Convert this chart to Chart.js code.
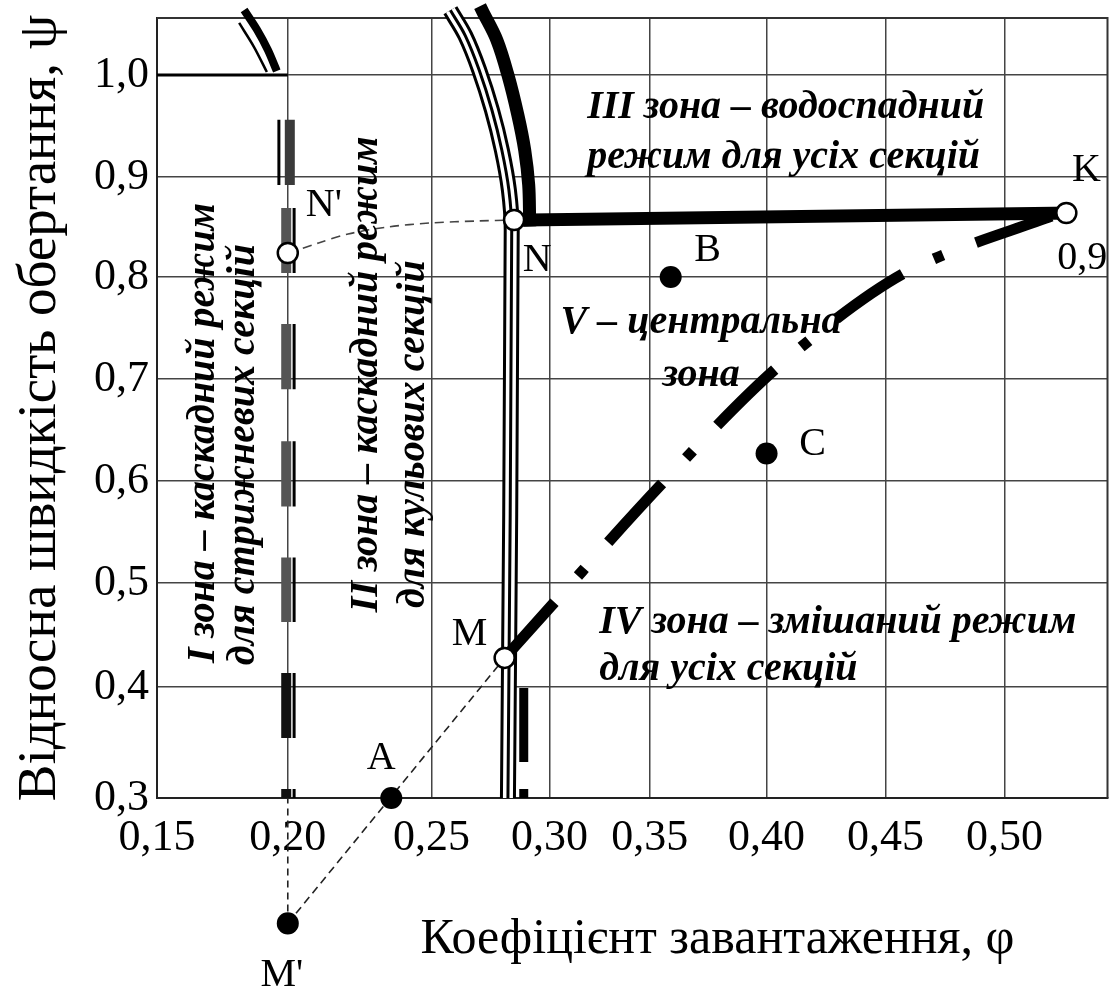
<!DOCTYPE html>
<html>
<head>
<meta charset="utf-8">
<script src="https://cdn.jsdelivr.net/npm/chart.js@4.4.1/dist/chart.umd.min.js"></script>
<style>
html,body{margin:0;padding:0;background:#fff;}
#wrap{width:1120px;height:1001px;}
</style>
</head>
<body>
<div id="wrap"><canvas id="c" width="1120" height="1001"></canvas></div>
<script>
// ---------------- data ----------------
const xTickValues = [0.15, 0.20, 0.25, 0.30, 0.35, 0.40, 0.45, 0.50];
const xTickLabels = ['0,15', '0,20', '0,25', '0,30', '0,35', '0,40', '0,45', '0,50'];
const yTickValues = [0.3, 0.4, 0.5, 0.6, 0.7, 0.8, 0.9, 1.0];
const yTickLabels = ['0,3', '0,4', '0,5', '0,6', '0,7', '0,8', '0,9', '1,0'];
const xMin = 0.15, xMax = 0.5433, yMin = 0.3, yMax = 1.0564;

// characteristic points (φ, ψ)
const pointNames = ['A', 'B', 'C', "M'", "N'", 'N', 'M', 'K'];
const pointPhi   = [0.236, 0.359, 0.400, 0.200, 0.200, 0.285, 0.281, 0.526];
const pointPsi   = [0.300, 0.800, 0.627, 0.187, 0.824, 0.857, 0.428, 0.864];
const solidPoints = ['A', 'B', 'C'];
const outsidePoints = ["M'"];          // lies below the plotting frame
const openPoints  = ["N'", 'N', 'M', 'K'];

// II/III boundary (thick band) and III/V boundary N–K
const bandPhi = [0.2718, 0.2777, 0.2824, 0.2866, 0.2895, 0.2912, 0.2916];
const bandPsi = [1.0623, 1.0346, 1.000, 0.9608, 0.9265, 0.892, 0.857];
const waterPhi = [0.2916, 0.526];
const waterPsi = [0.857, 0.864];

// ball-section boundary (triple line)
const ballPhi = [0.258, 0.2643, 0.2702, 0.2756, 0.2798, 0.2828, 0.2840, 0.2824];
const ballPsi = [1.064, 1.039, 1.005, 0.9657, 0.9265, 0.887, 0.847, 0.300];

// rod-section boundary: top arc and dashed double line
const rodArcThickPhi = [0.1833, 0.1883, 0.1924, 0.1958];
const rodArcThickPsi = [1.0643, 1.0445, 1.0247, 1.004];
const rodArcThinPhi  = [0.1814, 0.1871, 0.1920];
const rodArcThinPsi  = [1.0515, 1.0277, 1.003];
const rodDashTop     = [0.956, 0.869, 0.754, 0.639, 0.525, 0.4135, 0.308];
const rodDashBottom  = [0.892, 0.804, 0.690, 0.575, 0.4625, 0.354, 0.300];
const rodThickPhi    = [0.2007, 0.1994, 0.1994, 0.1994, 0.1994, 0.1994, 0.1994];
const rodThinPhi     = [0.1966, 0.2022, 0.2022, 0.2022, 0.2022, 0.2022, 0.2022];
const levelPhi = [0.15, 0.20];
const levelPsi = [1.0, 1.0];

// IV zone boundary below M (thick dashes)
const mixedPhi = 0.2891;
const mixedTop = [0.399, 0.308];
const mixedBottom = [0.3324, 0.300];

// V zone boundary M–K (dash-dot)
const centralPhi = [0.281, 0.3547, 0.4053, 0.458, 0.520, 0.526];
const centralPsi = [0.428, 0.596, 0.713, 0.804, 0.861, 0.864];

// thin construction lines
const arcNNPhi = [0.2003, 0.2107, 0.2210, 0.2348, 0.2497, 0.2697, 0.2849];
const arcNNPsi = [0.824, 0.834, 0.843, 0.850, 0.854, 0.856, 0.857];
const lineMMPhi = [0.200, 0.281];
const lineMMPsi = [0.187, 0.428];
const dropPhi = [0.200, 0.200];
const dropPsi = [0.187, 0.300];

// ---------------- non-uniform axes of the original drawing ----------------
// [value, fraction of axis length]
const axisKnots = {
  x: [[0.15, 0], [0.20, 0.1376], [0.25, 0.2888], [0.30, 0.4129], [0.35, 0.5183],
      [0.40, 0.6413], [0.45, 0.7664], [0.50, 0.8916], [0.5433, 1]],
  y: [[0.3, 0], [0.4, 0.1423], [0.5, 0.2756], [0.6, 0.4064], [0.7, 0.5372],
      [0.8, 0.668], [0.9, 0.7962], [1.0, 0.9269], [1.0564, 1]]
};

class PiecewiseScale extends Chart.LinearScale {
  getPixelForValue(value) {
    if (value === null || value === undefined || isNaN(value)) return NaN;
    const k = axisKnots[this.id];
    let i = 0;
    while (i < k.length - 2 && value > k[i + 1][0]) i++;
    const f = k[i][1] + (value - k[i][0]) / (k[i + 1][0] - k[i][0]) * (k[i + 1][1] - k[i][1]);
    return this.getPixelForDecimal(f);
  }
  getValueForPixel(pixel) {
    const f = this.getDecimalForPixel(pixel);
    const k = axisKnots[this.id];
    let i = 0;
    while (i < k.length - 2 && f > k[i + 1][1]) i++;
    return k[i][0] + (f - k[i][1]) / (k[i + 1][1] - k[i][1]) * (k[i + 1][0] - k[i][0]);
  }
}
PiecewiseScale.id = 'piecewise';
PiecewiseScale.defaults = Chart.LinearScale.defaults;
Chart.register(PiecewiseScale);

// ---------------- helpers ----------------
const xy = (px, py) => px.map((v, i) => ({x: v, y: py[i]}));
function dashData(phis, tops, bottoms) {
  const d = [];
  tops.forEach((t, i) => {
    const p = Array.isArray(phis) ? phis[i] : phis;
    d.push({x: p, y: t}, {x: p, y: bottoms[i]}, {x: p, y: null});
  });
  return d;
}
const pick = names => names.map(n => {
  const i = pointNames.indexOf(n);
  return {x: pointPhi[i], y: pointPsi[i]};
});
// a dot outside the frame: zero-length stroke with round caps
const dotData = names => {
  const d = [];
  names.forEach(n => {
    const i = pointNames.indexOf(n);
    d.push({x: pointPhi[i], y: pointPsi[i]}, {x: pointPhi[i], y: pointPsi[i] + 0.0001}, {x: pointPhi[i], y: null});
  });
  return d;
};
const rodThickColors = ['#3a3a3a', '#555', '#555', '#555', '#555', '#111', '#111'];

const lineBase = {showLine: true, pointRadius: 0, pointHoverRadius: 0, clip: false, fill: false, borderCapStyle: 'butt'};

const datasets = [
  {data: pick(solidPoints), showLine: false, pointRadius: 11, pointBackgroundColor: '#000', pointBorderWidth: 0, order: 0, clip: false},
  {data: pick(openPoints), showLine: false, pointRadius: 10, pointBackgroundColor: '#fff', pointBorderColor: '#000', pointBorderWidth: 2.5, order: 1, clip: false},
  Object.assign({}, lineBase, {data: dotData(outsidePoints), borderColor: '#000', borderWidth: 22, borderCapStyle: 'round', tension: 0, order: 0}),
  Object.assign({}, lineBase, {data: xy(centralPhi, centralPsi), borderColor: '#000', borderWidth: 11, tension: 0.3, borderDash: [80, 35, 10, 35], borderDashOffset: 5, order: 2}),
  Object.assign({}, lineBase, {data: xy(arcNNPhi, arcNNPsi), borderColor: '#444', borderWidth: 1.6, tension: 0.3, borderDash: [9, 6], order: 3}),
  Object.assign({}, lineBase, {data: xy(lineMMPhi, lineMMPsi), borderColor: '#222', borderWidth: 1.6, tension: 0, borderDash: [8, 5], order: 3}),
  Object.assign({}, lineBase, {data: xy(dropPhi, dropPsi), borderColor: '#222', borderWidth: 1.6, tension: 0, borderDash: [7, 5], order: 3}),
  Object.assign({}, lineBase, {data: xy(waterPhi, waterPsi), borderColor: '#000', borderWidth: 13, tension: 0, borderCapStyle: 'square', order: 5}),
  Object.assign({}, lineBase, {data: xy(bandPhi, bandPsi), borderColor: '#000', borderWidth: 13, tension: 0.35, borderCapStyle: 'square', order: 5}),
  Object.assign({}, lineBase, {data: xy(ballPhi, ballPsi), borderColor: '#000', borderWidth: 3, tension: 0.35, order: 6}),
  Object.assign({}, lineBase, {data: xy(ballPhi, ballPsi), borderColor: '#fff', borderWidth: 10, tension: 0.35, order: 7}),
  Object.assign({}, lineBase, {data: xy(ballPhi, ballPsi), borderColor: '#000', borderWidth: 16, tension: 0.35, order: 8}),
  Object.assign({}, lineBase, {data: dashData(mixedPhi, mixedTop, mixedBottom), borderColor: '#000', borderWidth: 9, tension: 0, order: 9}),
  Object.assign({}, lineBase, {data: dashData(rodThinPhi, rodDashTop, rodDashBottom), borderColor: '#000', borderWidth: 3, tension: 0, order: 9}),
  Object.assign({}, lineBase, {data: dashData(rodThickPhi, rodDashTop, rodDashBottom), borderColor: '#555', borderWidth: 10, tension: 0, order: 10,
    segment: {borderColor: ctx => rodThickColors[Math.floor(ctx.p0DataIndex / 3)]}}),
  Object.assign({}, lineBase, {data: xy(rodArcThickPhi, rodArcThickPsi), borderColor: '#000', borderWidth: 8, tension: 0.3, order: 11}),
  Object.assign({}, lineBase, {data: xy(rodArcThinPhi, rodArcThinPsi), borderColor: '#000', borderWidth: 2.5, tension: 0.3, order: 11}),
  Object.assign({}, lineBase, {data: xy(levelPhi, levelPsi), borderColor: '#000', borderWidth: 3, tension: 0, order: 12})
];

// ---------------- text annotations ----------------
const pointLabelOffset = {"A": [-10, -40], "B": [37, -26], "C": [46, -9], "M'": [-6, 52],
  "N'": [36, -47], "N": [23, 41], "M": [-35, -23], "K": [20, -42]};
const SERIF = '"Liberation Serif", "Times New Roman", serif';
const ZONE_FONT = 'italic bold 40px ' + SERIF;

function drawText(ctx, text, x, y, o) {
  ctx.save();
  ctx.translate(x, y);
  if (o.rotate) ctx.rotate(o.rotate);
  if (o.sx) ctx.scale(o.sx, 1);
  ctx.font = o.font;
  ctx.fillStyle = '#000';
  ctx.textAlign = o.align || 'center';
  ctx.textBaseline = 'middle';
  ctx.fillText(text, 0, 0);
  ctx.restore();
}

const textPlugin = {
  id: 'annotText',
  beforeDraw(chart) {
    const c = chart.ctx;
    c.save(); c.fillStyle = '#fff'; c.fillRect(0, 0, chart.width, chart.height); c.restore();
  },
  beforeDatasetsDraw(chart) {
    // top and right edges of the frame
    const c = chart.ctx, a = chart.chartArea;
    c.save();
    c.strokeStyle = '#333'; c.lineWidth = 2;
    c.beginPath();
    c.moveTo(a.left, a.top); c.lineTo(a.right, a.top); c.lineTo(a.right, a.bottom);
    c.stroke();
    c.restore();
  },
  afterDatasetsDraw(chart) {
    const ctx = chart.ctx, sx = chart.scales.x, sy = chart.scales.y;
    const X = v => sx.getPixelForValue(v), Y = v => sy.getPixelForValue(v);
    const PF = '40px ' + SERIF;
    pointNames.forEach((n, i) => {
      const o = pointLabelOffset[n];
      drawText(ctx, n, X(pointPhi[i]) + o[0], Y(pointPsi[i]) + o[1], {font: PF});
    });
    const k = pointNames.indexOf('K');
    drawText(ctx, '0,9', X(pointPhi[k]) + 16, Y(pointPsi[k]) + 46, {font: PF});

    // III zone
    drawText(ctx, 'III зона – водоспадний', X(0.3188), Y(0.9676), {font: ZONE_FONT, align: 'left'});
    drawText(ctx, 'режим для усіх секцій', X(0.3188), Y(0.9186), {font: ZONE_FONT, align: 'left'});
    // V zone
    drawText(ctx, 'V – центральна', X(0.372), Y(0.755), {font: ZONE_FONT});
    drawText(ctx, 'зона', X(0.372), Y(0.703), {font: ZONE_FONT});
    // IV zone
    drawText(ctx, 'IV зона – змішаний режим', X(0.3248), Y(0.4615), {font: ZONE_FONT, align: 'left'});
    drawText(ctx, 'для усіх секцій', X(0.3248), Y(0.4163), {font: ZONE_FONT, align: 'left'});
    // I zone (vertical)
    const R = -Math.PI / 2;
    drawText(ctx, 'I зона – каскадний режим', X(0.1678), Y(0.423), {font: ZONE_FONT, align: 'left', rotate: R});
    drawText(ctx, 'для стрижневих секцій', X(0.1833), Y(0.421), {font: ZONE_FONT, align: 'left', rotate: R});
    // II zone (vertical)
    drawText(ctx, 'II зона – каскадний режим', X(0.2276), Y(0.472), {font: ZONE_FONT, align: 'left', rotate: R});
    drawText(ctx, 'для кульових секцій', X(0.2438), Y(0.476), {font: ZONE_FONT, align: 'left', rotate: R});

    // x axis title
    drawText(ctx, 'Коефіцієнт завантаження, φ', X(0.379), chart.chartArea.bottom + 142, {font: '50px ' + SERIF});
  }
};

const zeroPad = s => { s.paddingTop = 0; s.paddingBottom = 0; s.paddingLeft = 0; s.paddingRight = 0; };

// ---------------- chart ----------------
const tickFont = {family: 'Liberation Serif', size: 44};
new Chart(document.getElementById('c'), {
  type: 'scatter',
  data: {datasets},
  plugins: [textPlugin],
  options: {
    responsive: false,
    animation: false,
    devicePixelRatio: 1,
    events: [],
    layout: {padding: {top: 18, right: 3, left: 0, bottom: 0}},
    plugins: {legend: {display: false}, tooltip: {enabled: false}},
    scales: {
      x: {
        type: 'piecewise', min: xMin, max: xMax,
        afterBuildTicks: s => { s.ticks = xTickValues.map(v => ({value: v})); },
        afterFit: s => { s.height = 203; zeroPad(s); },
        ticks: {autoSkip: false, maxRotation: 0, minRotation: 0, padding: 14, color: '#000', font: tickFont,
                callback: (v, i) => xTickLabels[i]},
        grid: {color: '#444', lineWidth: 1.5, drawTicks: false},
        border: {display: true, color: '#222', width: 2}
      },
      y: {
        type: 'piecewise', min: yMin, max: yMax,
        afterBuildTicks: s => { s.ticks = yTickValues.map(v => ({value: v})); },
        afterFit: s => { s.width = 157; zeroPad(s); },
        ticks: {autoSkip: false, padding: 8, color: '#000', font: tickFont,
                callback: (v, i) => yTickLabels[i]},
        grid: {color: '#444', lineWidth: 1.5, drawTicks: false},
        border: {display: true, color: '#222', width: 2},
        title: {display: true, text: 'Відносна швидкість обертання, ψ', color: '#000',
                font: {family: 'Liberation Serif', size: 55}, padding: {top: 8, bottom: 0}}
      }
    }
  }
});
</script>
</body>
</html>
